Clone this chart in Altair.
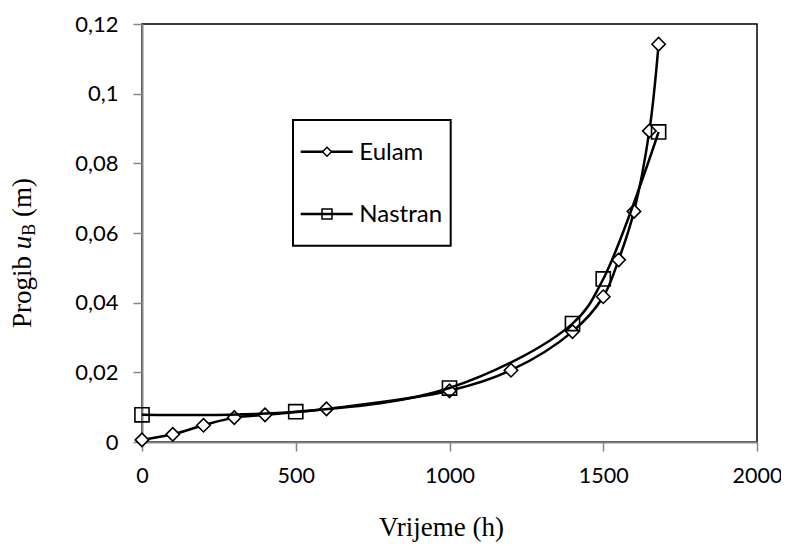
import altair as alt
import pandas as pd

# ---- data ----
eulam_x = [0, 100, 200, 300, 400, 600, 1000, 1200, 1400, 1500, 1550, 1600, 1650, 1680]
eulam_y = [0.0006, 0.0022, 0.0048, 0.0070, 0.0078, 0.0095, 0.0147, 0.0206,
           0.0317, 0.0417, 0.0523, 0.0662, 0.0893, 0.1142]
nastran_x = [0, 500, 1000, 1400, 1500, 1680]
nastran_y = [0.0078, 0.0087, 0.0155, 0.0340, 0.0468, 0.0890]

series_names = ["Eulam", "Nastran"]
x_ticks = [0, 500, 1000, 1500, 2000]
y_ticks = [0, 0.02, 0.04, 0.06, 0.08, 0.1, 0.12]
x_title = "Vrijeme (h)"
y_title_parts = ["Progib", "u", "B", "(m)"]

eulam = pd.DataFrame({"t": eulam_x, "u": eulam_y, "s": series_names[0]})
nastran = pd.DataFrame({"t": nastran_x, "u": nastran_y, "s": series_names[1]})

W, H = 615, 418
TICK_FONT = "Lato"
SERIF = "Liberation Serif"

xs = alt.Scale(domain=[0, 2000], nice=False)
ys = alt.Scale(domain=[0, 0.12], nice=False)

xax = alt.Axis(values=x_ticks, format="d", title=None, grid=False, labelFlush=False,
               domainColor="#868686", domainWidth=2, tickColor="#868686",
               tickWidth=1.5, tickSize=9, labelFont=TICK_FONT, labelFontSize=21.5,
               labelColor="black", labelPadding=14)
yax = alt.Axis(values=y_ticks, title=None, grid=False, labelFlush=False,
               labelExpr="replace(format(datum.value, '~g'), '.', ',')",
               domainColor="#868686", domainWidth=2, tickColor="#868686",
               tickWidth=1.5, tickSize=9, labelFont=TICK_FONT, labelFontSize=22,
               labelColor="black", labelPadding=15)

X = alt.X("t:Q", scale=xs, axis=xax)
Y = alt.Y("u:Q", scale=ys, axis=yax)


def line_layer(df):
    return alt.Chart(df).mark_line(
        interpolate="catmull-rom", color="black", strokeWidth=2.5, clip=False
    ).encode(x=X, y=Y)


eulam_line = line_layer(eulam)
eulam_pts = alt.Chart(eulam).mark_point(
    shape="diamond", size=180, filled=True, fill="white", stroke="black",
    strokeWidth=1.6, opacity=1
).encode(x=X, y=Y)

nastran_line = line_layer(nastran)
nastran_pts = alt.Chart(nastran).mark_point(
    shape="square", size=200, filled=False, stroke="black", strokeWidth=1.6,
    opacity=1
).encode(x=X, y=Y)

# ---- legend (drawn manually) ----
one = pd.DataFrame({"k": [0]})
leg_box = alt.Chart(one).mark_rect(fill="white", stroke="black", strokeWidth=2).encode(
    x=alt.value(151), x2=alt.value(308.7), y=alt.value(96), y2=alt.value(221.7))

legend_layers = [leg_box]
for name, ly, shape, filled in [(series_names[0], 127.7, "diamond", True),
                                (series_names[1], 190, "square", False)]:
    d = pd.DataFrame({"s": [name]})
    legend_layers.append(alt.Chart(d).mark_rule(color="black", strokeWidth=2.5).encode(
        x=alt.value(158.7), x2=alt.value(210.7), y=alt.value(ly)))
    if filled:
        legend_layers.append(alt.Chart(d).mark_point(
            shape=shape, size=80, filled=True, fill="white", stroke="black",
            strokeWidth=1.5, opacity=1).encode(x=alt.value(185), y=alt.value(ly)))
    else:
        legend_layers.append(alt.Chart(d).mark_point(
            shape=shape, size=100, filled=False, stroke="black",
            strokeWidth=1.5, opacity=1).encode(x=alt.value(185), y=alt.value(ly)))
    legend_layers.append(alt.Chart(d).mark_text(
        font=TICK_FONT, fontSize=24, align="left", baseline="middle", color="black"
    ).encode(x=alt.value(217.3), y=alt.value(ly + 1), text="s:N"))

# ---- axis titles (manual, to get italic u with subscript B) ----
tdf = pd.DataFrame({"a": [x_title], "p0": [y_title_parts[0]], "p1": [y_title_parts[1]],
                    "p2": [y_title_parts[2]], "p3": [y_title_parts[3]]})
x_title_l = alt.Chart(tdf).mark_text(
    font=SERIF, fontSize=27, align="center", baseline="alphabetic", color="black"
).encode(x=alt.value(299.5), y=alt.value(512), text="a:N")

BX = -111
yt0 = alt.Chart(tdf).mark_text(font=SERIF, fontSize=27, angle=270, align="left",
                               baseline="alphabetic", color="black").encode(
    x=alt.value(BX), y=alt.value(304), text="p0:N")
yt1 = alt.Chart(tdf).mark_text(font=SERIF, fontSize=27, fontStyle="italic", angle=270,
                               align="left", baseline="alphabetic", color="black").encode(
    x=alt.value(BX), y=alt.value(225.2), text="p1:N")
yt2 = alt.Chart(tdf).mark_text(font=SERIF, fontSize=18, angle=270, align="left",
                               baseline="alphabetic", color="black").encode(
    x=alt.value(BX + 4), y=alt.value(211.7), text="p2:N")
yt3 = alt.Chart(tdf).mark_text(font=SERIF, fontSize=27, angle=270, align="left",
                               baseline="alphabetic", color="black").encode(
    x=alt.value(BX), y=alt.value(192.9), text="p3:N")

chart = alt.layer(
    eulam_line, eulam_pts, nastran_line, nastran_pts,
    *legend_layers, x_title_l, yt0, yt1, yt2, yt3
).properties(
    width=W, height=H,
    autosize=alt.AutoSizeParams(type="none"),
    padding={"left": 134, "top": 16, "right": 24, "bottom": 100},
    background="white",
).configure_view(
    stroke="black", strokeWidth=1.5
)

chart.save("out.html", embed_options={"renderer": "svg", "actions": False})
